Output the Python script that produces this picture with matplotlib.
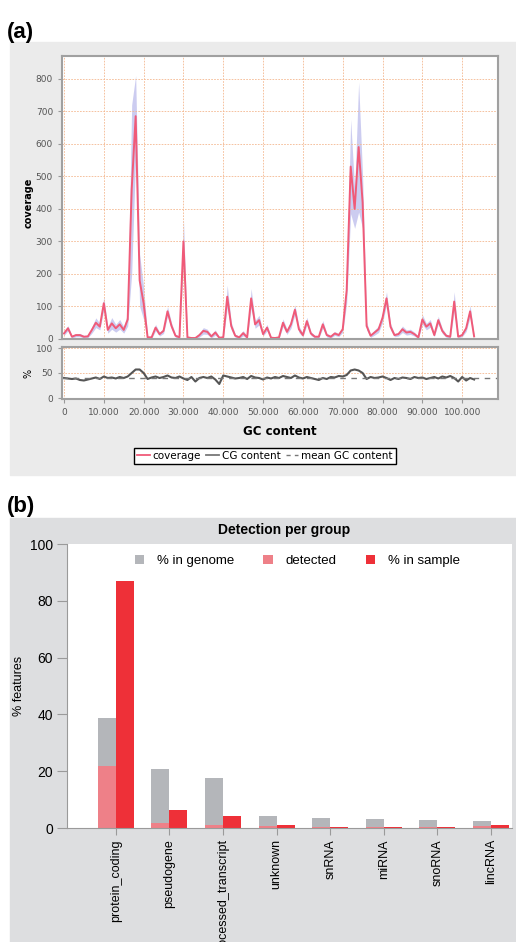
import numpy as np
import matplotlib
matplotlib.use("Agg")
import matplotlib.pyplot as plt
from matplotlib.patches import Rectangle
from matplotlib.ticker import FuncFormatter, MultipleLocator

# ---- panel (a) data: coverage / GC content along sequence (1 kb steps)
coverage = [17, 33, 7, 12, 12, 7, 8, 28, 50, 38,
            110, 28, 48, 33, 45, 28, 60, 460, 685, 180,
            110, 5, 5, 35, 15, 25, 85, 40, 10, 5,
            300, 5, 3, 3, 12, 25, 22, 8, 20, 4,
            5, 130, 40, 10, 5, 18, 5, 125, 45, 58,
            15, 35, 4, 3, 5, 50, 22, 45, 90, 30,
            12, 55, 17, 7, 7, 45, 12, 7, 17, 12,
            30, 150, 530, 400, 590, 420, 40, 10, 20, 30,
            65, 125, 38, 12, 15, 30, 20, 22, 15, 5,
            60, 38, 48, 12, 58, 25, 10, 7, 115, 7,
            12, 33, 85, 8]
cov_spread = [6, 8, 4, 5, 5, 4, 4, 10, 15, 10,
              20, 10, 18, 12, 15, 10, 20, 260, 125, 80,
              50, 4, 4, 10, 6, 8, 15, 10, 5, 4,
              70, 4, 3, 3, 6, 10, 8, 5, 8, 3,
              4, 35, 12, 5, 4, 8, 4, 30, 12, 15,
              6, 10, 3, 3, 4, 12, 8, 12, 15, 10,
              6, 12, 6, 4, 4, 12, 6, 4, 6, 5,
              10, 40, 145, 60, 200, 80, 12, 5, 8, 10,
              15, 20, 10, 5, 6, 10, 8, 8, 6, 4,
              15, 10, 12, 5, 12, 8, 5, 4, 30, 4,
              5, 10, 18, 4]
gc_content = [40, 39, 38, 39, 36, 35, 37, 39, 41, 38,
              43, 40, 41, 39, 42, 40, 43, 50, 57, 57,
              50, 38, 41, 43, 40, 42, 45, 41, 40, 43,
              39, 36, 42, 33, 40, 42, 40, 43, 37, 28,
              45, 43, 41, 39, 40, 42, 38, 44, 41, 40,
              37, 41, 39, 42, 40, 44, 42, 40, 45, 41,
              39, 42, 40, 38, 36, 40, 38, 42, 41, 44,
              43, 46, 55, 57, 55, 50, 38, 42, 40, 41,
              43, 40, 36, 40, 38, 41, 40, 38, 42, 40,
              41, 38, 40, 42, 39, 43, 41, 44, 40, 33,
              42, 35, 40, 37]
mean_gc = 40
positions = np.arange(len(coverage)) * 1000

# ---- panel (b) data
categories = ["protein_coding", "pseudogene", "processed_transcript", "unknown",
              "snRNA", "miRNA", "snoRNA", "lincRNA"]
pct_genome = [38.6, 20.8, 17.5, 4.2, 3.6, 3.2, 2.8, 2.4]
pct_detected = [21.8, 1.7, 1.2, 0.6, 0.3, 0.2, 0.2, 0.6]
pct_sample = [87.0, 6.3, 4.1, 1.2, 0.2, 0.3, 0.2, 1.0]

W, H = 516, 942
fig = plt.figure(figsize=(W / 100, H / 100), dpi=100)


def box(l, t, r, b):
    # pixel box -> figure fraction [left, bottom, width, height]
    return [l / W, 1 - b / H, (r - l) / W, (b - t) / H]


# panel backgrounds
fig.patches.append(Rectangle((10 / W, 1 - 475 / H), 506 / W, 433 / H,
                             transform=fig.transFigure, color="#ebebeb", zorder=-10))
fig.patches.append(Rectangle((10 / W, 0), 506 / W, 1 - 518 / H,
                             transform=fig.transFigure, color="#dddee0", zorder=-10))

fig.text(7 / W, 1 - 38 / H, "(a)", fontsize=16, fontweight="bold", family="Liberation Sans")
fig.text(7 / W, 1 - 512 / H, "(b)", fontsize=16, fontweight="bold", family="Liberation Sans")

grid_kw = dict(color="#f4b890", linestyle=(0, (2, 1.5)), linewidth=0.6)
fmt = FuncFormatter(lambda v, p: "{:,}".format(int(v)).replace(",", "."))

# ---- coverage axes
ax1 = fig.add_axes(box(62, 56, 498, 339))
lo = np.clip(np.array(coverage) - np.array(cov_spread), 0, None)
hi = np.array(coverage) + np.array(cov_spread)
ax1.fill_between(positions, lo, hi, color="#c4c4ee", alpha=0.85, linewidth=0)
ax1.plot(positions, coverage, color="#f05a78", linewidth=1.4)
ax1.set_xlim(-500, 109000)
ax1.set_ylim(0, 870)
ax1.yaxis.set_major_locator(MultipleLocator(100))
ax1.xaxis.set_major_locator(MultipleLocator(10000))
ax1.grid(True, **grid_kw)
ax1.tick_params(axis="x", labelbottom=False, length=0)
ax1.tick_params(axis="y", labelsize=6.5, labelcolor="#555555", color="#999999", length=3)
ax1.set_ylabel("coverage", fontsize=7, fontweight="bold")
ax1.yaxis.set_label_coords(-0.066, 0.48)
for s in ax1.spines.values():
    s.set_color("#a0a0a0")
    s.set_linewidth(1.5)

# ---- GC content axes
ax2 = fig.add_axes(box(62, 347, 498, 399))
ax2.plot(positions, gc_content, color="#555555", linewidth=1.5)
ax2.axhline(mean_gc, color="#777777", linestyle=(0, (4, 4)), linewidth=1.0)
ax2.set_xlim(-500, 109000)
ax2.set_ylim(-2, 102)
ax2.set_yticks([0, 50, 100])
ax2.xaxis.set_major_formatter(fmt)
ax2.set_xticks(np.arange(0, 100001, 10000))
ax2.grid(True, **grid_kw)
ax2.tick_params(labelsize=6.5, labelcolor="#555555", color="#999999", length=3)
ax2.set_ylabel("%", fontsize=7)
ax2.yaxis.set_label_coords(-0.066, 0.5)
ax2.set_xlabel("GC content", fontsize=8.5, fontweight="bold", labelpad=6)
for s in ax2.spines.values():
    s.set_color("#a0a0a0")
    s.set_linewidth(1.5)

h1, = ax2.plot([], [], color="#f05a78", linewidth=1.3)
h2, = ax2.plot([], [], color="#777777", linewidth=1.3)
h3, = ax2.plot([], [], color="#777777", linewidth=1.0, linestyle=(0, (3, 3)))
leg = fig.legend([h1, h2, h3], ["coverage", "CG content", "mean GC content"],
                 loc="center", bbox_to_anchor=(265 / W, 1 - 456 / H), ncol=3,
                 fontsize=7.5, handlelength=1.2, handletextpad=0.3, columnspacing=0.5,
                 fancybox=False, framealpha=1, borderpad=0.3)
leg.get_frame().set_edgecolor("black")
leg.get_frame().set_linewidth(1.0)

# ---- panel (b): detection per group
ax3 = fig.add_axes(box(67, 544, 512, 828))
x = np.arange(len(categories))
bw = 0.336
ax3.bar(x - bw, pct_genome, width=bw, align="edge", color="#b4b6ba", label="% in genome")
ax3.bar(x - bw, pct_detected, width=bw, align="edge", color="#ee8088", label="detected")
ax3.bar(x, pct_sample, width=bw, align="edge", color="#ee3038", label="% in sample")
ax3.set_xlim(-0.91, 7.39)
ax3.set_ylim(0, 100)
ax3.set_yticks([0, 20, 40, 60, 80, 100])
ax3.set_xticks(x)
ax3.set_xticklabels(categories, rotation=90, va="top", ha="center")
for s in ["top", "right"]:
    ax3.spines[s].set_visible(False)
for s in ["left", "bottom"]:
    ax3.spines[s].set_color("#9a9a9a")
ax3.tick_params(axis="y", labelsize=10, length=7, color="#9a9a9a", pad=3)
ax3.tick_params(axis="x", labelsize=9, length=5, color="#9a9a9a", pad=3)
for t in ax3.get_xticklabels() + ax3.get_yticklabels():
    t.set_family("Liberation Sans")
ax3.set_ylabel("% features", fontsize=9, family="Liberation Sans")
ax3.yaxis.set_label_coords(-0.094, 0.5)
ax3.legend(loc="center", bbox_to_anchor=(0.518, 0.94), ncol=3, frameon=False,
           prop={"family": "Liberation Sans", "size": 9.5}, handlelength=0.7,
           handleheight=0.7, handletextpad=1.0, columnspacing=2.2)
fig.text(284 / W, 1 - 530 / H, "Detection per group", ha="center", va="center",
         fontsize=10, fontweight="bold", family="Liberation Sans")

fig.savefig("out.png", dpi=100)
